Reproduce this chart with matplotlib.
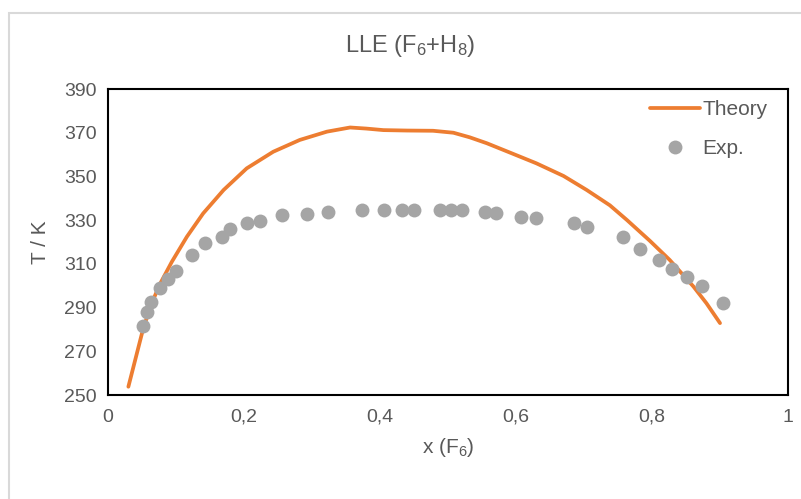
import numpy as np
import matplotlib.pyplot as plt
from matplotlib.patches import Rectangle

# Theory curve
x_theory = [0.030, 0.040, 0.050, 0.062, 0.077, 0.094, 0.116, 0.140, 0.170,
            0.204, 0.243, 0.282, 0.322, 0.356, 0.380, 0.405, 0.440, 0.478,
            0.508, 0.532, 0.557, 0.596, 0.630, 0.670, 0.704, 0.738, 0.763,
            0.797, 0.826, 0.861, 0.880, 0.900]
t_theory = [253.8, 266.0, 278.2, 290.4, 301.1, 311.0, 322.4, 333.1, 343.8,
            353.7, 361.3, 366.7, 370.5, 372.4, 371.9, 371.2, 371.0, 370.9,
            370.0, 367.9, 365.2, 360.3, 356.0, 350.2, 343.8, 336.8, 330.1,
            320.5, 311.8, 299.6, 292.0, 282.9]

# Experimental points
x_exp = [0.052, 0.057, 0.063, 0.0765, 0.088, 0.100, 0.123, 0.143, 0.168,
         0.179, 0.204, 0.224, 0.256, 0.292, 0.324, 0.374, 0.406, 0.432,
         0.450, 0.488, 0.504, 0.520, 0.554, 0.571, 0.608, 0.630, 0.685,
         0.704, 0.757, 0.782, 0.811, 0.830, 0.852, 0.874, 0.905]
t_exp = [281.6, 288.1, 292.6, 298.8, 303.1, 306.9, 314.1, 319.7, 322.1,
         326.1, 328.6, 329.6, 332.2, 332.8, 333.9, 334.6, 334.8, 334.8,
         334.8, 334.6, 334.6, 334.6, 333.6, 333.1, 331.6, 331.1, 328.9,
         326.7, 322.1, 316.7, 311.6, 307.8, 303.9, 299.9, 292.0]

txt = '#595959'
plt.rcParams['font.family'] = ['Liberation Sans', 'DejaVu Sans']
plt.rcParams['mathtext.fontset'] = 'custom'
plt.rcParams['mathtext.rm'] = 'Liberation Sans'
plt.rcParams['mathtext.default'] = 'rm'

fig = plt.figure(figsize=(8.01, 4.99), dpi=100)
fig.patches.append(Rectangle((9 / 801, -0.1), 1.2, 1 - 13 / 499 + 0.1,
                             transform=fig.transFigure, fill=False,
                             edgecolor='#D9D9D9', linewidth=1.5))

ax = fig.add_axes([0.1348, 0.2084, 0.849, 0.6132])
ax.plot(x_theory, t_theory, color='#ED7D31', linewidth=2.7,
        solid_capstyle='round', solid_joinstyle='round', label='Theory', zorder=2)
ax.plot(x_exp, t_exp, 'o', color='#A5A5A5', markersize=10,
        markeredgewidth=0, label='Exp.', zorder=3)

ax.set_xlim(0, 1)
ax.set_ylim(250, 390)
ax.set_yticks(np.arange(250, 391, 20))
ax.set_xticks([0, 0.2, 0.4, 0.6, 0.8, 1])
ax.set_xticklabels(['0', '0,2', '0,4', '0,6', '0,8', '1'])
ax.tick_params(length=0, labelsize=14, labelcolor=txt)
ax.tick_params(axis='x', pad=10)
ax.tick_params(axis='y', pad=8)
for s in ax.spines.values():
    s.set_color('black')
    s.set_linewidth(1.5)

ax.set_xlabel('x (F$_6$)', fontsize=15, color=txt, labelpad=7)
ax.set_ylabel('T / K', fontsize=15, color=txt, labelpad=10)
fig.text(0.512, 0.907, 'LLE (F$_6$+H$_8$)', fontsize=17, color=txt,
         ha='center', va='center')

leg = ax.legend(loc='upper right', bbox_to_anchor=(0.997, 1.025),
                frameon=False, fontsize=15, labelcolor=txt,
                handlelength=2.4, handletextpad=0.1, labelspacing=0.95)

fig.savefig('out.png', dpi=100)
